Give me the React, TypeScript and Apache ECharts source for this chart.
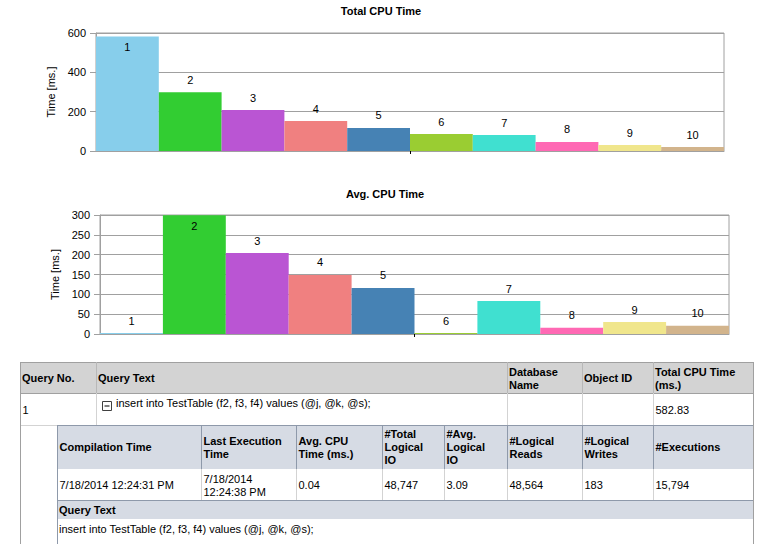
import React, { useEffect, useRef } from "react";
import * as echarts from "echarts";

// ---------- data ----------
const chartCategories = [""];
const queryNos = ["1", "2", "3", "4", "5", "6", "7", "8", "9", "10"];
const totalCpuTime = [582.83, 299, 208, 152, 117, 86, 81, 46, 30, 20];
const avgCpuTime = [0.04, 299.5, 204, 149, 116, 1, 83, 16, 30, 21];
const barColors = [
  "#87CEEB", "#32CD32", "#BA55D3", "#F08080", "#4682B4",
  "#9ACD32", "#40E0D0", "#FF69B4", "#F0E68C", "#D2B48C",
];
const chartTitles = ["Total CPU Time", "Avg. CPU Time"];
const yAxisName = "Time [ms.]";
const totalAxis = { min: 0, max: 600, interval: 200 };
const avgAxis = { min: 0, max: 300, interval: 50 };

const outerHeaders = ["Query No.", "Query Text", "Database\nName", "Object ID", "Total CPU Time\n(ms.)"];
const outerRow = ["1", "insert into TestTable (f2, f3, f4) values (@j, @k, @s);", "", "", "582.83"];
const innerHeaders = [
  "Compilation Time", "Last Execution\nTime", "Avg. CPU\nTime (ms.)", "#Total\nLogical\nIO",
  "#Avg.\nLogical\nIO", "#Logical\nReads", "#Logical\nWrites", "#Executions",
];
const innerRow = ["7/18/2014 12:24:31 PM", "7/18/2014\n12:24:38 PM", "0.04", "48,747", "3.09", "48,564", "183", "15,794"];
const subHeader = "Query Text";
const subText = "insert into TestTable (f2, f3, f4) values (@j, @k, @s);";

// ---------- styles / layout ----------
const FONT = '"Liberation Sans", Arial, sans-serif';
const F = `11px ${FONT}`;
const FB = `bold 11px ${FONT}`;
const GRID_COLOR = "#A0A0A0";

const outerCols = [20, 96, 507, 582, 653, 754];
const innerCols = [57, 201, 296, 382, 444, 507, 582, 653, 754];

function hline(x1: number, x2: number, y: number, color: string) {
  return { type: "line", silent: true, shape: { x1, y1: y + 0.5, x2, y2: y + 0.5 }, style: { stroke: color, lineWidth: 1 } };
}
function vline(x: number, y1: number, y2: number, color: string) {
  return { type: "line", silent: true, shape: { x1: x + 0.5, y1, x2: x + 0.5, y2 }, style: { stroke: color, lineWidth: 1 } };
}
function rect(x: number, y: number, w: number, h: number, fill: string) {
  return { type: "rect", silent: true, shape: { x, y, width: w, height: h }, style: { fill } };
}
function txt(text: string, x: number, y: number, bold = false, align = "left") {
  return {
    type: "text",
    silent: true,
    x,
    y,
    style: {
      text,
      font: bold ? FB : F,
      fill: "#000",
      align,
      textAlign: align,
      verticalAlign: "middle",
      textVerticalAlign: "middle",
      lineHeight: 13,
    },
  };
}

function buildTable() {
  const els: any[] = [];
  const OUT_HDR = "#D3D3D3";
  const IN_HDR = "#D6DBE4";
  const SLATE = "#8E99AA";
  const LIGHT = "#D3D3D3";
  // outer header
  els.push(rect(20, 362, 734, 31, OUT_HDR));
  els.push(hline(20, 754, 362, GRID_COLOR));
  outerCols.slice(1, -1).forEach((x) => els.push(vline(x, 362, 393, "#B8B8B8")));
  outerHeaders.forEach((h, i) => els.push(txt(h, outerCols[i] + 2, 378, true)));
  els.push(hline(20, 754, 393, GRID_COLOR));
  // outer data row
  outerCols.slice(1, -1).forEach((x) => els.push(vline(x, 393, 425, LIGHT)));
  outerRow.forEach((v, i) => {
    if (!v) return;
    if (i === 1) {
      els.push({ type: "rect", silent: true, shape: { x: 102.5, y: 401.5, width: 9, height: 9 }, style: { fill: "#fff", stroke: "#404040", lineWidth: 1 } });
      els.push({ type: "line", silent: true, shape: { x1: 104.5, y1: 406, x2: 109.5, y2: 406 }, style: { stroke: "#000", lineWidth: 1 } });
      els.push(txt(v, 116, 403));
    } else {
      els.push(txt(v, outerCols[i] + 2.5, 409.5));
    }
  });
  els.push(hline(20, 57, 425, LIGHT));
  // inner header
  els.push(rect(57, 425, 697, 44, IN_HDR));
  els.push(hline(57, 754, 425, SLATE));
  innerCols.slice(1, -1).forEach((x) => els.push(vline(x, 425, 469, SLATE)));
  innerHeaders.forEach((h, i) => els.push(txt(h, innerCols[i] + 2.5, 447, true)));
  // inner data row
  innerCols.slice(1, -1).forEach((x) => els.push(vline(x, 469, 500, LIGHT)));
  innerRow.forEach((v, i) => els.push(txt(v, innerCols[i] + 2.5, 485)));
  // sub header
  els.push(rect(57, 500, 697, 19, IN_HDR));
  els.push(hline(57, 754, 500, SLATE));
  els.push(txt(subHeader, 59, 510, true));
  els.push(txt(subText, 59, 529));
  // outer borders
  els.push(vline(20, 362, 544, GRID_COLOR));
  els.push(vline(753, 362, 544, GRID_COLOR));
  els.push(vline(57, 425, 544, SLATE));
  // chart titles
  els.push(txt(chartTitles[0], 381, 11, true, "center"));
  els.push(txt(chartTitles[1], 385, 194, true, "center"));
  return els;
}

function yAxis(gridIndex: number, ax: { min: number; max: number; interval: number }, nameGap: number) {
  return {
    type: "value",
    gridIndex,
    min: ax.min,
    max: ax.max,
    interval: ax.interval,
    name: yAxisName,
    nameLocation: "middle",
    nameGap,
    nameTextStyle: { fontFamily: FONT, fontSize: 11, color: "#000" },
    axisLine: { show: true, lineStyle: { color: GRID_COLOR } },
    axisTick: { show: true, length: 6, lineStyle: { color: GRID_COLOR } },
    axisLabel: { fontFamily: FONT, fontSize: 11, color: "#000", margin: 10 },
    splitLine: { show: true, lineStyle: { color: GRID_COLOR } },
  };
}

function xAxis(gridIndex: number) {
  return {
    type: "category",
    gridIndex,
    data: chartCategories,
    axisLine: { show: true, lineStyle: { color: GRID_COLOR } },
    axisTick: { show: true, alignWithLabel: true, length: 3, lineStyle: { color: "#000" } },
    axisLabel: { show: false },
    splitLine: { show: false },
  };
}

function barSeries(values: number[], axisIndex: number, max: number) {
  return queryNos.map((q, i) => {
    const inside = values[i] > max * 0.9;
    return {
      type: "bar",
      name: q,
      xAxisIndex: axisIndex,
      yAxisIndex: axisIndex,
      data: [values[i]],
      barGap: "0%",
      barCategoryGap: "0%",
      barMinHeight: 1,
      itemStyle: { color: barColors[i] },
      label: {
        show: true,
        formatter: q,
        position: inside ? "insideTop" : "top",
        distance: inside ? 5 : 7,
        fontFamily: FONT,
        fontSize: 11,
        color: "#000",
      },
    };
  });
}

export default function App() {
  const ref = useRef<HTMLDivElement>(null);
  useEffect(() => {
    if (!ref.current) return;
    const chart = echarts.init(ref.current, undefined, { renderer: "svg" });
    chart.setOption({
      animation: false,
      backgroundColor: "#fff",
      grid: [
        { left: 96, top: 33, width: 628, height: 118, show: true, borderColor: GRID_COLOR, borderWidth: 1, backgroundColor: "transparent" },
        { left: 100, top: 215, width: 629, height: 119, show: true, borderColor: GRID_COLOR, borderWidth: 1, backgroundColor: "transparent" },
      ],
      xAxis: [xAxis(0), xAxis(1)],
      yAxis: [yAxis(0, totalAxis, 36), yAxis(1, avgAxis, 40)],
      series: [...barSeries(totalCpuTime, 0, totalAxis.max), ...barSeries(avgCpuTime, 1, avgAxis.max)],
      graphic: buildTable(),
    });
    return () => chart.dispose();
  }, []);
  return <div ref={ref} style={{ position: "absolute", left: 0, top: 0, width: 773, height: 544 }} />;
}
